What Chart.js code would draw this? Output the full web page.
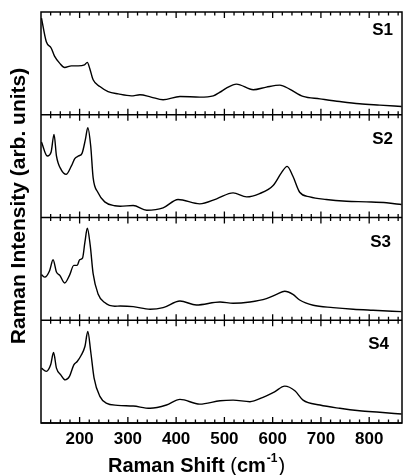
<!DOCTYPE html>
<html>
<head>
<meta charset="utf-8">
<script src="https://cdn.jsdelivr.net/npm/chart.js@4.4.1/dist/chart.umd.min.js"></script>
<style>
  html, body { margin: 0; padding: 0; background: #fff; }
  canvas { display: block; }
</style>
</head>
<body>
<canvas id="ramanChart" width="403" height="475"></canvas>
<script>
// values; intensity in % of each panel's height
const sampleNames = ['S1', 'S2', 'S3', 'S4'];
const xTicks = [200, 300, 400, 500, 600, 700, 800];

const s1Shift = [121,131,141,148,159,169,183,197,210,216,221,228,242,259,280,307,325,348,373,408,449,477,490,504,525,560,587,615,635,663,698,739,780,822,867];
const s1Int   = [94,71,65,57,50,46,47.6,47.6,48.5,51,45,34,27.5,22.6,20.3,18.4,19.4,17.2,14.6,17.8,17.2,18.4,21.7,25.9,29.8,24.3,26.9,28.8,25,17.8,15.5,12.9,10.7,9.4,8.1];

const s2Shift = [121,133,141,147,152,162,172,183,190,198,205,212,217,223,228,238,252,273,284,311,339,373,404,449,484,518,546,573,601,618,630,642,656,677,711,753,794,836,867];
const s2Int   = [73.5,59.9,63.8,80.9,59.9,46.3,42,50.2,57.3,59.9,62.4,76,87.4,69.6,38.8,24.3,15.2,11.4,11,11.7,7.1,9.4,17.5,13.3,18.2,24,20.1,23.3,31.1,43.4,49.8,40.1,24.6,20.1,17.5,15.8,15.2,14.3,12.6];

const s3Shift = [121,128,138,145,152,159,169,179,188,195,200,206,211,216,222,228,238,252,273,284,311,346,373,408,442,491,518,553,587,608,625,642,656,684,725,767,808,867];
const s3Int   = [44.4,42,48.5,58.9,46.9,43.7,36.2,43.7,53.4,53.4,58.9,60.5,76,89.6,72.8,45.3,25.9,17.2,13.6,13.9,13.3,10.7,12.3,18.7,14.9,17.8,16.5,17.8,21.1,25.2,28.2,25.2,19.7,14.6,12.3,10.7,9.7,8.4];

const s4Shift = [121,131,140,146,152,161,170,179,188,195,203,211,217,223,230,242,255,279,311,346,380,408,449,491,518,553,580,604,625,646,663,698,739,780,822,867];
const s4Int   = [53.4,50.2,56.6,68.6,53.4,46.9,42,45.3,56.6,59.9,65.7,74.5,89,69.6,43.7,25.9,19.4,17.2,16.5,14.3,17.5,23,18.4,21.7,22.3,20.7,25,30.4,35.9,31.4,22.3,17.5,14.3,11.9,10.4,8.7];

const shifts = [s1Shift, s2Shift, s3Shift, s4Shift];
const intensities = [s1Int, s2Int, s3Int, s4Int];
const panelIds = ['y1', 'y2', 'y3', 'y4'];

const FONT = '"Liberation Sans", Arial, sans-serif';

const datasets = sampleNames.map((name, i) => ({
  label: name,
  data: shifts[i].map((x, k) => ({ x: x, y: intensities[i][k] })),
  yAxisID: panelIds[i],
  borderColor: '#000',
  borderWidth: 1.4,
  pointRadius: 0,
  fill: false,
  cubicInterpolationMode: 'monotone'
}));

const scales = {
  x: {
    type: 'linear',
    position: 'bottom',
    min: 120,
    max: 868,
    afterFit: s => { s.height = 52; },
    afterBuildTicks: s => { s.ticks = xTicks.map(v => ({ value: v })); },
    grid: { display: false, drawTicks: false },
    border: { display: false },
    ticks: {
      padding: 6,
      color: '#000',
      maxRotation: 0,
      autoSkip: false,
      font: { family: FONT, size: 17, weight: 'bold' }
    }
  }
};
// stacked axes are laid out bottom-up, so the last panel goes in first
panelIds.slice().reverse().forEach(id => {
  scales[id] = {
    type: 'linear',
    position: 'left',
    stack: 'panels',
    stackWeight: 1,
    min: 0,
    max: 100,
    afterFit: s => { s.width = 0; },
    grid: { display: false, drawTicks: false },
    border: { display: false },
    ticks: { display: false }
  };
});

// frame, inward ticks on every panel edge, panel labels and axis titles
const framePlugin = {
  id: 'frame',
  afterDatasetsDraw(chart) {
    const { ctx, chartArea: a } = chart;
    const xs = chart.scales.x;
    ctx.save();
    ctx.strokeStyle = '#000';
    ctx.fillStyle = '#000';
    const labelDrop = [23, 29, 29, 29];
    const labelRight = [393, 393, 391, 389];
    panelIds.forEach((id, i) => {
      const s = chart.scales[id];
      ctx.lineWidth = 1.3;
      ctx.beginPath();
      for (let v = 140; v <= 860; v += 20) {
        const px = xs.getPixelForValue(v);
        const len = v % 100 === 0 ? 6 : 3.5;
        ctx.moveTo(px, s.top); ctx.lineTo(px, s.top + len);
        ctx.moveTo(px, s.bottom); ctx.lineTo(px, s.bottom - len);
      }
      ctx.stroke();
      ctx.lineWidth = 1.5;
      ctx.beginPath();
      ctx.moveTo(a.left, s.bottom); ctx.lineTo(a.right, s.bottom);
      ctx.stroke();
      ctx.font = 'bold 17px ' + FONT;
      ctx.textAlign = 'right';
      ctx.textBaseline = 'alphabetic';
      ctx.fillText(sampleNames[i], labelRight[i], s.top + labelDrop[i]);
    });
    ctx.lineWidth = 1.5;
    ctx.strokeRect(a.left, a.top, a.right - a.left, a.bottom - a.top);

    // y title
    ctx.save();
    ctx.translate(25, 206);
    ctx.rotate(-Math.PI / 2);
    ctx.textAlign = 'center';
    ctx.font = 'bold 21px ' + FONT;
    ctx.fillText('Raman Intensity (arb. units)', 0, 0);
    ctx.restore();

    // x title with superscript
    ctx.textAlign = 'left';
    let x = 108;
    const base = 472;
    ctx.font = 'bold 20px ' + FONT;
    ctx.fillText('Raman Shift ', x, base);
    x += ctx.measureText('Raman Shift ').width;
    ctx.font = '20px ' + FONT;
    ctx.fillText('(', x, base);
    x += ctx.measureText('(').width;
    ctx.font = 'bold 20px ' + FONT;
    ctx.fillText('cm', x, base);
    x += ctx.measureText('cm').width + 1;
    ctx.font = 'bold 12px ' + FONT;
    ctx.fillText('-1', x, base - 10);
    x += ctx.measureText('-1').width + 1;
    ctx.font = '20px ' + FONT;
    ctx.fillText(')', x, base);
    ctx.restore();
  }
};

new Chart(document.getElementById('ramanChart').getContext('2d'), {
  type: 'line',
  data: { datasets: datasets },
  options: {
    responsive: false,
    animation: false,
    devicePixelRatio: 1,
    layout: { padding: { top: 12, left: 41, right: 1, bottom: 0 } },
    plugins: { legend: { display: false }, tooltip: { enabled: false } },
    scales: scales
  },
  plugins: [framePlugin]
});
</script>
</body>
</html>
